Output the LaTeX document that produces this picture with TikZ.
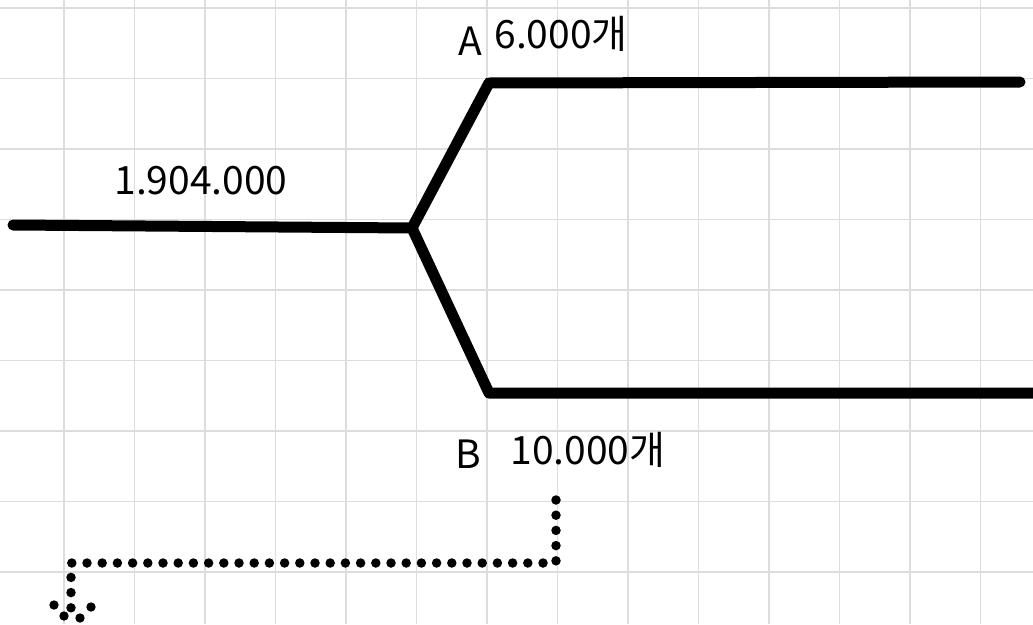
\documentclass[tikz,border=0pt]{standalone}
\usepackage{fontspec}
\setmainfont{Noto Sans CJK KR}
\begin{document}
\begin{tikzpicture}[x=1pt,y=-1pt,
  gridline/.style={draw={rgb,255:red,221;green,221;blue,221},line width=1.6pt},
  bigline/.style={line width=11pt,line cap=round,line join=round},
  dotline/.style={line width=9.5pt,line cap=round,dash pattern=on 0pt off 15.2pt},
  lbl/.style={inner sep=0pt,font=\fontsize{39}{41}\selectfont},
  dotc/.style={fill=black,draw=none}]
\useasboundingbox (0,0) rectangle (1033,624);
\fill[white] (0,0) rectangle (1033,624);
% grid
\foreach \i in {0,...,13} \draw[gridline] ({64+70.5*\i},0) -- ({64+70.5*\i},624);
\foreach \j in {0,...,8} \draw[gridline] (0,{8+70.5*\j}) -- (1033,{8+70.5*\j});
% coordinates
\coordinate (L) at (13,225);
\coordinate (J) at (412,228);
\coordinate (AU) at (489,83);
\coordinate (AE) at (1020,82);
\coordinate (BD) at (489,393);
\coordinate (BE) at (1040,393);
% lines
\draw[bigline] (L) -- (J) -- (AU) -- (AE);
\draw[bigline] (J) -- (BD) -- (BE);
% labels
\node[lbl] (a) at (470,41) {A};
\node[lbl] (aval) at (561,34) {6.000개};
\node[lbl] (total) at (201,181) {1.904.000};
\node[lbl] (b) at (468,454) {B};
\node[lbl] (bval) at (588,450) {10.000개};
% dotted path
\coordinate (D1) at (556,500);
\coordinate (D2) at (556,563);
\coordinate (D3) at (71,563);
\coordinate (D4) at (71,610);
\draw[dotline] (D1) -- (D2) -- (D3) -- (D4);
\fill[dotc] (54,605) circle (4.7);
\fill[dotc] (64,616) circle (4.7);
\fill[dotc] (80,618) circle (4.7);
\fill[dotc] (91,607) circle (4.7);
\end{tikzpicture}
\end{document}
